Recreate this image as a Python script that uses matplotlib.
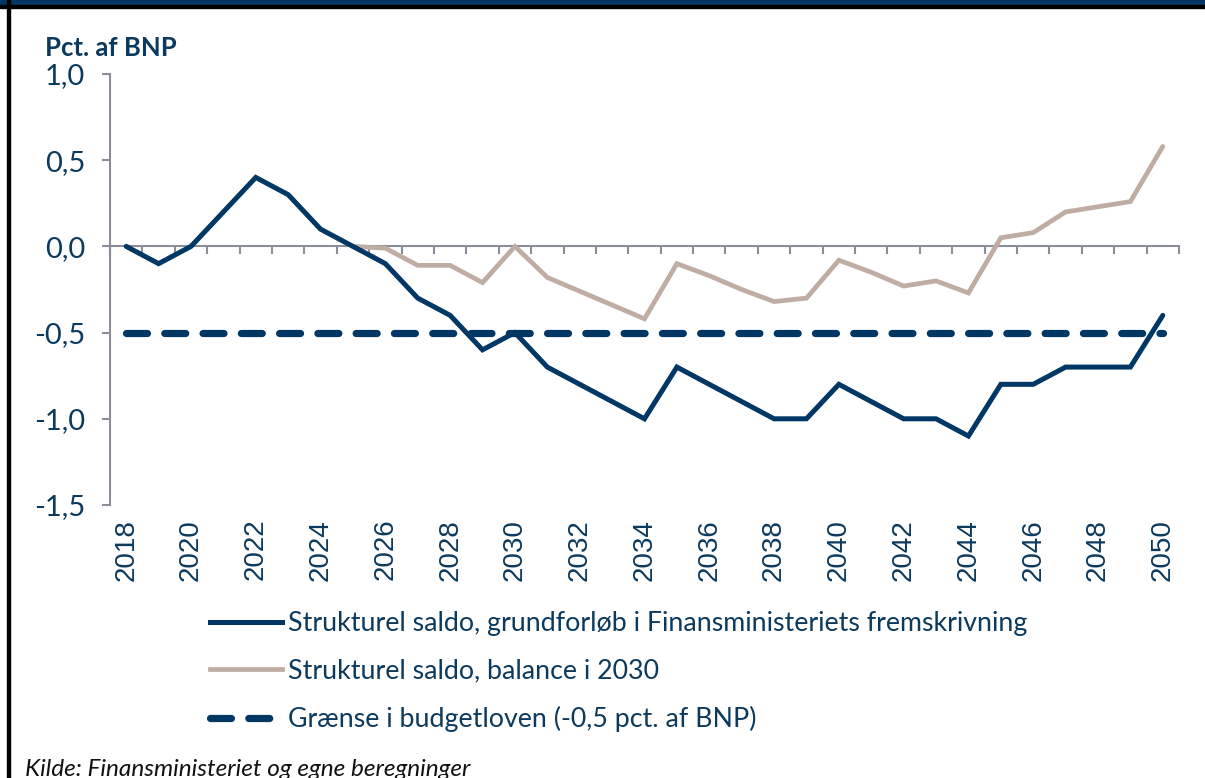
import matplotlib
matplotlib.use("Agg")
import matplotlib.pyplot as plt
from matplotlib.patches import Rectangle
from matplotlib.lines import Line2D

years = list(range(2018, 2051))
grundforloeb = [0.0, -0.1, 0.0, 0.2, 0.4, 0.3, 0.1, 0.0, -0.1, -0.3, -0.4, -0.6, -0.5,
                -0.7, -0.8, -0.9, -1.0, -0.7, -0.8, -0.9, -1.0, -1.0, -0.8, -0.9, -1.0,
                -1.0, -1.1, -0.8, -0.8, -0.7, -0.7, -0.7, -0.4]
balance_years = list(range(2025, 2051))
balance_2030 = [0.0, -0.01, -0.11, -0.11, -0.21, 0.0, -0.18, -0.26, -0.34, -0.42,
                -0.10, -0.17, -0.25, -0.32, -0.30, -0.08, -0.15, -0.23, -0.20, -0.27,
                0.05, 0.08, 0.20, 0.23, 0.26, 0.58]
graense = [-0.5] * len(years)
label_years = list(range(2018, 2051, 2))
yticks = [1.0, 0.5, 0.0, -0.5, -1.0, -1.5]
ytick_labels = ["1,0", "0,5", "0,0", "-0,5", "-1,0", "-1,5"]
legend_labels = ["Strukturel saldo, grundforløb i Finansministeriets fremskrivning",
                 "Strukturel saldo, balance i 2030",
                 "Grænse i budgetloven (-0,5 pct. af BNP)"]

NAVY = "#003764"
TAUPE = "#bfaca3"
AXGRAY = "#8b8e9a"
TXT = "#0c3a5e"

fig = plt.figure(figsize=(12.05, 7.78), dpi=100)
ax = fig.add_axes([110/1205, 1-505/778, (1179-110)/1205, (505-74)/778])

ax.plot(years, graense, color=NAVY, lw=5.2, dashes=(2.9, 2.4), dash_capstyle="round",
        zorder=3)
ax.plot(balance_years, balance_2030, color=TAUPE, lw=3.4, solid_joinstyle="miter",
        solid_capstyle="round", zorder=4)
ax.plot(years, grundforloeb, color=NAVY, lw=3.6, solid_joinstyle="miter",
        solid_capstyle="round", zorder=5)

ax.set_xlim(2017.5, 2050.5)
ax.set_ylim(-1.5, 1.0)
for s in ["top", "right"]:
    ax.spines[s].set_visible(False)
ax.spines["bottom"].set_position(("data", 0))
ax.spines["bottom"].set_color(AXGRAY)
ax.spines["left"].set_color(AXGRAY)
ax.spines["bottom"].set_linewidth(1.5)
ax.spines["left"].set_linewidth(1.5)
ax.set_xticks([y + 0.5 for y in range(2017, 2051)])
ax.tick_params(axis="x", direction="out", length=6, width=1.5, color=AXGRAY,
               labelbottom=False)
ax.set_yticks(yticks)
ax.set_yticklabels(ytick_labels, fontfamily="Lato", fontsize=21, color=TXT)
ax.tick_params(axis="y", direction="out", length=6, width=1.5, color=AXGRAY, pad=12)

for yr in label_years:
    ax.text(yr, -1.58, str(yr), rotation=90, ha="center", va="top", fontsize=20,
            fontfamily="Liberation Sans", color=TXT)

fig.text(45/1205, 1-48/778, "Pct. af BNP", fontfamily="Lato", fontweight="bold",
         fontsize=18.5, color=TXT, va="center", ha="left")

handles = [Line2D([], [], color=NAVY, lw=3.6),
           Line2D([], [], color=TAUPE, lw=3.4),
           Line2D([], [], color=NAVY, lw=5.2, dashes=(2.9, 2.4), dash_capstyle="round")]
leg = fig.legend(handles, legend_labels, loc="upper left",
                 bbox_to_anchor=(210/1205, 1-611/778), frameon=False,
                 prop={"family": "Lato", "size": 19.3}, handlelength=2.69,
                 handletextpad=0.22, labelspacing=0.84, borderpad=0, borderaxespad=0)
for t in leg.get_texts():
    t.set_color(TXT)

fig.text(25/1205, 1-769/778, "Kilde: Finansministeriet og egne beregninger",
         fontfamily="Lato", fontstyle="italic", fontsize=17.6, color="#111111",
         va="center", ha="left")

fig.patches.append(Rectangle((0, 1-5/778), 1, 5/778, transform=fig.transFigure,
                             color=NAVY, zorder=10))
fig.patches.append(Rectangle((0, 1-7.5/778), 1, 2.5/778, transform=fig.transFigure,
                             color="black", zorder=10))
fig.patches.append(Rectangle((7.5/1205, 0), 2/1205, 1, transform=fig.transFigure,
                             color="black", zorder=10))

fig.savefig("out.png", dpi=100)
